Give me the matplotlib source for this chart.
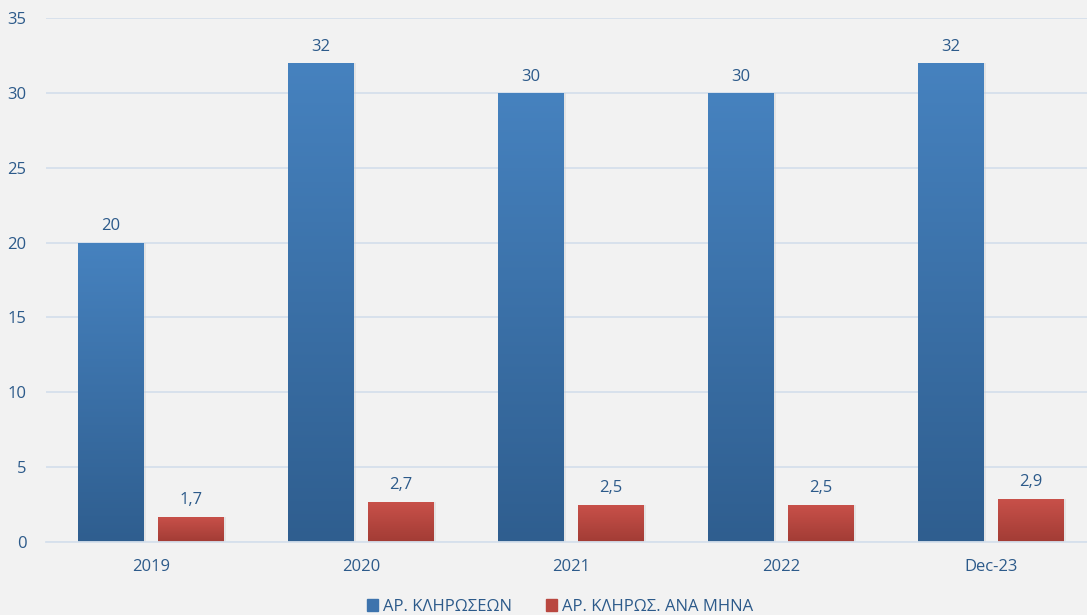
import matplotlib
matplotlib.use("Agg")
import matplotlib.pyplot as plt
import numpy as np
from matplotlib.colors import LinearSegmentedColormap

categories = ["2019", "2020", "2021", "2022", "Dec-23"]
draws = [20, 32, 30, 30, 32]
draws_per_month = [1.7, 2.7, 2.5, 2.5, 2.9]
draw_labels = ["20", "32", "30", "30", "32"]
month_labels = ["1,7", "2,7", "2,5", "2,5", "2,9"]
series_names = ["ΑΡ. ΚΛΗΡΩΣΕΩΝ", "ΑΡ. ΚΛΗΡΩΣ. ΑΝΑ ΜΗΝΑ"]

plt.rcParams['font.family'] = ['Open Sans', 'DejaVu Sans']
txt = '#2c5a8a'
bg = '#f2f2f2'

W, H = 1087, 615
fig = plt.figure(figsize=(W/100, H/100), dpi=100, facecolor=bg)
ax = fig.add_axes([46/W, (H-542)/H, 1050/W, 524/H], facecolor=bg)
ax.set_xlim(-0.5, 4.5)
ax.set_ylim(0, 35)

x = np.arange(len(categories))
bw = 0.314
off = 0.19

blue_cmap = LinearSegmentedColormap.from_list('b', ['#2f5e8f', '#4682bf'])
red_cmap = LinearSegmentedColormap.from_list('r', ['#a23c35', '#c9514a'])

ax.set_yticks(np.arange(0, 36, 5))
ax.yaxis.grid(True, color='#d6e0ec', linewidth=1.3, zorder=0)
ax.set_axisbelow(True)

b1 = ax.bar(x - off, draws, bw, color='#3d73ad', zorder=2, label=series_names[0])
b2 = ax.bar(x + off, draws_per_month, bw, color='#b94740', zorder=2, label=series_names[1])

grad = np.linspace(0, 1, 256).reshape(-1, 1)
for bars, cmap in ((b1, blue_cmap), (b2, red_cmap)):
    for p in bars:
        x0, y0 = p.get_x(), p.get_y()
        w, h = p.get_width(), p.get_height()
        # subtle shadow
        ax.bar(x0 + w/2 + 0.01, h, w, bottom=0, color='#cfcfcf', alpha=0.4, zorder=1.5)
        im = ax.imshow(grad, cmap=cmap, aspect='auto', extent=(x0, x0 + w, y0, y0 + h),
                       origin='lower', zorder=2.5)
        im.set_clip_path(p)

for xi, v, lab in zip(x - off, draws, draw_labels):
    ax.annotate(lab, (xi, v), xytext=(0, 6), textcoords='offset points', ha='center',
                va='bottom', color=txt, fontsize=12)
for xi, v, lab in zip(x + off, draws_per_month, month_labels):
    ax.annotate(lab, (xi, v), xytext=(0, 6), textcoords='offset points', ha='center',
                va='bottom', color=txt, fontsize=12)

ax.set_xticks(x)
ax.set_xticklabels(categories)
ax.tick_params(axis='both', length=0, colors=txt, labelsize=12)
ax.tick_params(axis='x', pad=12)
ax.tick_params(axis='y', pad=14)
for s in ['top', 'right', 'left']:
    ax.spines[s].set_visible(False)
ax.spines['bottom'].set_color('#d6e0ec')
ax.spines['bottom'].set_linewidth(1.3)

handles = [plt.Rectangle((0, 0), 1, 1, color='#3d73ad'), plt.Rectangle((0, 0), 1, 1, color='#b94740')]
leg = fig.legend(handles, series_names, loc='center', bbox_to_anchor=(560/W, 1 - 607/H), ncol=2,
                 frameon=False, fontsize=12, handlelength=0.7, handleheight=0.7,
                 handletextpad=0.3, columnspacing=2.0, labelcolor=txt)

fig.savefig('out.png', dpi=100, facecolor=bg)
